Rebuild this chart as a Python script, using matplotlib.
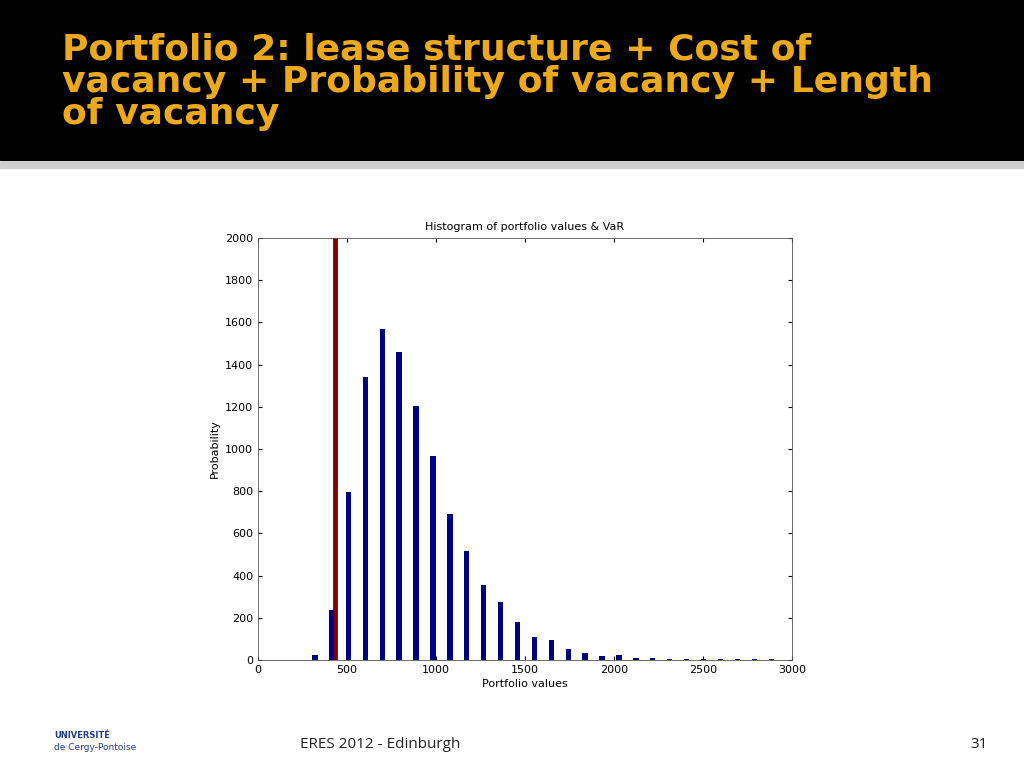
import matplotlib.pyplot as plt
import numpy as np

# data
centers = [320, 413, 508, 603, 698, 793, 888, 983, 1078, 1173, 1268, 1363, 1458, 1553,
           1648, 1743, 1838, 1933, 2028, 2123, 2218, 2313, 2408, 2503, 2598, 2693, 2788, 2883]
counts = [25, 235, 795, 1340, 1570, 1460, 1205, 965, 690, 515, 355, 275, 180, 110,
          95, 50, 35, 20, 22, 10, 8, 6, 5, 4, 4, 4, 3, 3]
var_value = 432

fig = plt.figure(figsize=(10.24, 7.68), dpi=100)
fig.patch.set_facecolor('white')

# header band
fig.patches.append(plt.Rectangle((0, 1 - 160/768), 1, 160/768, transform=fig.transFigure,
                                 color='black', zorder=0))
fig.patches.append(plt.Rectangle((0, 1 - 168/768), 1, 6/768, transform=fig.transFigure,
                                 color='#cfcfcf', zorder=0))
fig.text(62/1024, 1 - 32/768,
         "Portfolio 2: lease structure + Cost of\nvacancy + Probability of vacancy + Length\nof vacancy",
         color='#EBA91B', fontsize=26, fontweight='bold', family='DejaVu Sans',
         va='top', ha='left', linespacing=0.95)

ax = fig.add_axes([258/1024, 1 - 660/768, 534/1024, 422/768])
ax.bar(centers, counts, width=30, color='#000080')
ax.bar([var_value], [2000], width=22, color='#800000', edgecolor='#400000', linewidth=0.5)
ax.set_xlim(0, 3000)
ax.set_ylim(0, 2000)
ax.set_xticks(np.arange(0, 3001, 500))
ax.set_yticks(np.arange(0, 2001, 200))
ax.tick_params(labelsize=8, direction='in', top=True, right=True, length=3)
ax.set_title("Histogram of portfolio values & VaR", fontsize=8, pad=6)
ax.set_xlabel("Portfolio values", fontsize=8, labelpad=3)
ax.set_ylabel("Probability", fontsize=8)
for s in ax.spines.values():
    s.set_linewidth(0.6)
    s.set_color('#555555')

fig.text(300/1024, 1 - 744/768, "ERES 2012 - Edinburgh", fontsize=11, family='Open Sans',
         va='center', color='#222222')
fig.text(988/1024, 1 - 744/768, "31", fontsize=11, family='Open Sans', ha='right',
         va='center', color='#222222')
fig.text(54/1024, 1 - 738/768, "UNIVERSITÉ", fontsize=6, color='#1d3f8f', fontweight='bold')
fig.text(54/1024, 1 - 750/768, "de Cergy-Pontoise", fontsize=6.5, color='#1d3f8f')

fig.savefig('out.png', dpi=100)
